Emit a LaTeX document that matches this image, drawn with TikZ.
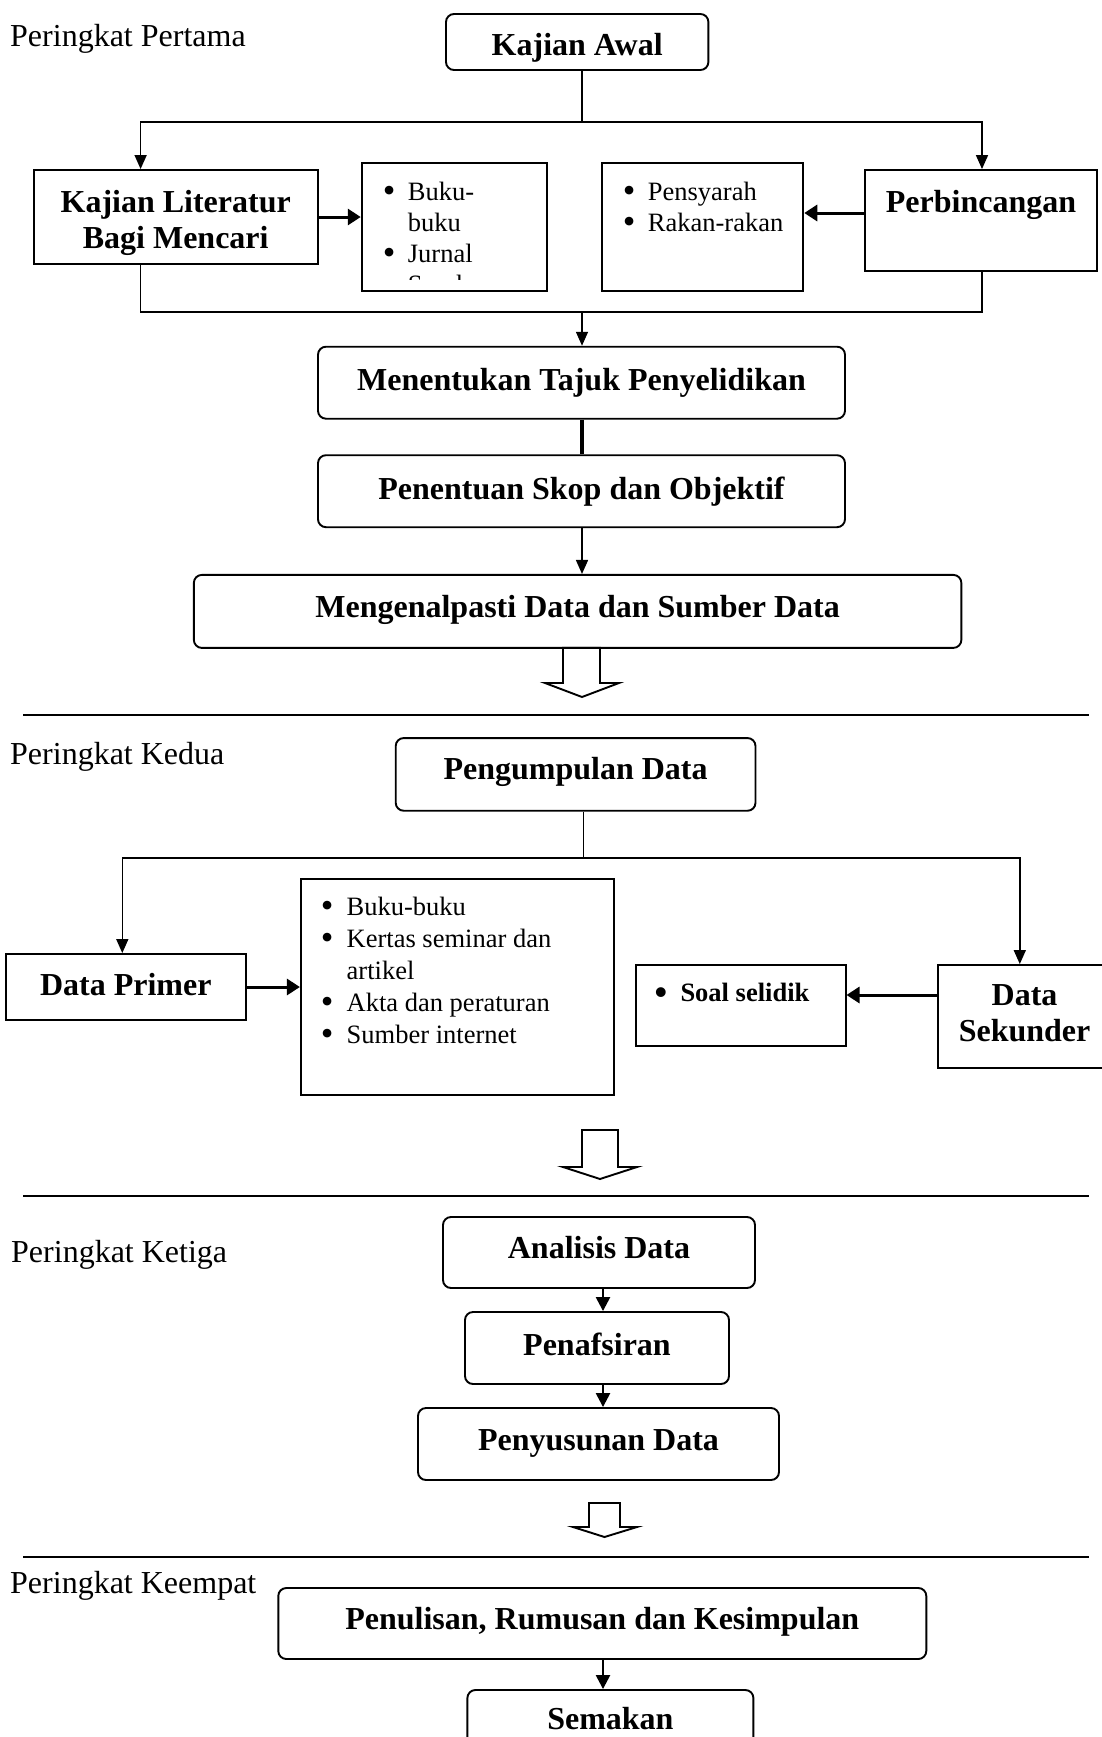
\documentclass[tikz,border=0pt]{standalone}
\usepackage{fontspec}
\setmainfont{Liberation Serif}
\usetikzlibrary{arrows.meta}
\newcommand\mybul{\makebox[9.3pt]{\raisebox{-2.5pt}{\fontsize{36}{36}\selectfont\textbullet}}}
\begin{document}
\begin{tikzpicture}[x=1pt,y=-1pt,
  ttl/.style={font=\fontsize{32}{36}\selectfont\bfseries},
  rbox/.style={draw, line width=1.9pt, rounded corners=8pt, inner sep=0pt, ttl, text height=13pt, text depth=0pt},
  sbox/.style={draw, line width=1.9pt, inner sep=0pt, ttl},
  lst/.style={anchor=base west, inner sep=0pt, font=\fontsize{26.5}{31}\selectfont},
  lstb/.style={anchor=base west, inner sep=0pt, font=\fontsize{26.5}{32}\selectfont},
  sec/.style={anchor=base west, inner sep=0pt, font=\fontsize{32}{38}\selectfont},
  lnk/.style={line width=1.6pt},
  arr/.style={line width=1.6pt, -{Triangle[length=14pt,width=12pt]}},
  arrk/.style={line width=2.4pt, -{Triangle[length=14pt,width=14pt]}},
  harr/.style={line width=3pt, -{Triangle[length=13pt,width=16pt]}},
  sep/.style={line width=1.8pt},
  hollow/.style={line width=1.9pt, line join=miter, fill=white}]
\useasboundingbox (0,0) rectangle (1102,1737);
\fill[white] (0,0) rectangle (1102,1737);
\clip (0,0) rectangle (1102,1737);

% ---------- Peringkat Pertama ----------
\node[sec] (s1) at (10,47) {Peringkat Pertama};
\node[rbox, minimum width=262.4pt, minimum height=56pt, text height=28pt] (ka) at (577.2,42) {Kajian Awal};
\node[sbox, minimum width=284pt, minimum height=94pt, text height=0pt, text depth=10pt] (kl) at (175.7,217)
  {\begin{tabular}[t]{@{}c@{}}Kajian Literatur\\Bagi Mencari\end{tabular}};
\node[sbox, minimum width=185pt, minimum height=128pt] (bk) at (454.2,226.7) {};
\begin{scope}
  \clip (361.7,162.7) rectangle (546.7,279.3);
  \node[lst] (bkt) at (384.4,200) {\begin{tabular}[t]{@{}l@{\hspace{14pt}}l@{}}\mybul & Buku-\\ & buku\\ \mybul & Jurnal\\ & Sumber\end{tabular}};
\end{scope}
\node[sbox, minimum width=201.6pt, minimum height=128pt] (ps) at (702.5,226.7) {};
\node[lst] (pst) at (624.4,200) {\begin{tabular}[t]{@{}l@{\hspace{14pt}}l@{}}\mybul & Pensyarah\\ \mybul & Rakan-rakan\end{tabular}};
\node[sbox, minimum width=232pt, minimum height=101pt, text height=0pt, text depth=17pt] (pb) at (981,220.5) {Perbincangan};

\node[rbox, minimum width=527pt, minimum height=72pt, text height=14.6pt] (mt) at (581.5,382.7) {Menentukan Tajuk Penyelidikan};
\node[rbox, minimum width=527pt, minimum height=72pt, text height=16pt] (pt) at (581.5,491.2) {Penentuan Skop dan Objektif};
\node[rbox, minimum width=767.5pt, minimum height=73pt, text height=13pt] (mg) at (577.6,611.4) {Mengenalpasti Data dan Sumber Data};

\coordinate (j1) at (582,122);
\coordinate (j1l) at (140.6,122);
\coordinate (j1r) at (982,122);
\draw[lnk] (ka.south -| j1) -- (j1);
\draw[arr] (j1r) -- (j1l) -- (j1l |- kl.north);
\draw[arr] (j1l) -- (j1r) -- (j1r |- pb.north);

\coordinate (j2) at (582,312);
\coordinate (j2l) at (140.6,312);
\coordinate (j2r) at (982,312);
\draw[lnk] (j2l |- kl.south) -- (j2l) -- (j2r) -- (j2r |- pb.south);
\draw[arr] (j2) -- (j2 |- mt.north);

\coordinate (h1) at (0,213);
\draw[harr] (kl.east) -- (bk.west |- kl.east);
\draw[harr] (pb.west |- h1) -- (ps.east |- h1);

\draw[line width=3.3pt] (mt.south -| j2) -- (pt.north -| j2);
\draw[arr] (pt.south -| j2) -- (mg.north -| j2);

\draw[hollow] (563,647.9) -- (563,683) -- (545,683) -- (582,697) -- (619,683) -- (600,683) -- (600,647.9) -- cycle;
\draw[sep] (23,715) -- (1089,715);

% ---------- Peringkat Kedua ----------
\node[sec] (s2) at (10,764) {Peringkat Kedua};
\node[rbox, minimum width=359.8pt, minimum height=72.7pt, text height=11pt] (pd) at (575.6,774.4) {Pengumpulan Data};
\node[sbox, minimum width=240.4pt, minimum height=66pt, text height=16pt, text depth=0pt] (dp) at (125.8,987) {Data Primer};
\node[sbox, minimum width=312.7pt, minimum height=216pt] (lk) at (457.2,987) {};
\node[lstb] (lkt) at (322.2,915) {\begin{tabular}[t]{@{}l@{\hspace{15pt}}l@{}}\mybul & Buku-buku\\ \mybul & Kertas seminar dan\\ & artikel\\ \mybul & Akta dan peraturan\\ \mybul & Sumber internet\end{tabular}};
\node[sbox, minimum width=209.5pt, minimum height=81pt] (ss) at (740.8,1005.5) {};
\node[lstb, font=\fontsize{26.5}{32}\selectfont\bfseries] (sst) at (656,1001.7) {\mybul\hspace{15pt}Soal selidik};
\node[sbox, minimum width=172.8pt, minimum height=103pt, text height=0pt, text depth=23pt] (ds) at (1024.6,1016.5)
  {\begin{tabular}[t]{@{}c@{}}Data\\Sekunder\end{tabular}};

\coordinate (j3) at (583.3,858);
\coordinate (j3l) at (122.3,858);
\coordinate (j3r) at (1019.8,858);
\draw[lnk] (pd.south -| j3) -- (j3);
\draw[arr] (j3r) -- (j3l) -- (j3l |- dp.north);
\draw[arr] (j3l) -- (j3r) -- (j3r |- ds.north);
\coordinate (h2) at (0,995);
\draw[harr] (dp.east) -- (lk.west |- dp.east);
\draw[harr] (ds.west |- h2) -- (ss.east |- h2);

\draw[hollow] (582,1130) -- (582,1167) -- (563,1167) -- (600,1179) -- (637,1167) -- (618,1167) -- (618,1130) -- cycle;
\draw[sep] (23,1196) -- (1089,1196);

% ---------- Peringkat Ketiga ----------
\node[sec] (s3) at (11,1262) {Peringkat Ketiga};
\node[rbox, minimum width=312pt, minimum height=71pt, text height=11.6pt] (ad) at (599,1252.5) {Analisis Data};
\node[rbox, minimum width=264pt, minimum height=72pt, text height=14pt] (pf) at (597,1348) {Penafsiran};
\node[rbox, minimum width=361pt, minimum height=72pt, text height=12pt] (py) at (598.5,1444) {Penyusunan Data};
\coordinate (x3) at (603,0);
\draw[arrk] (ad.south -| x3) -- (pf.north -| x3);
\draw[arrk] (pf.south -| x3) -- (py.north -| x3);

\draw[hollow] (589,1503) -- (589,1527) -- (573,1527) -- (604.5,1537) -- (637,1527) -- (620,1527) -- (620,1503) -- cycle;
\draw[sep] (23,1557) -- (1089,1557);

% ---------- Peringkat Keempat ----------
\node[sec] (s4) at (10,1593) {Peringkat Keempat};
\node[rbox, minimum width=648pt, minimum height=71pt, text height=11.6pt] (pn) at (602.3,1623.5) {Penulisan, Rumusan dan Kesimpulan};
\node[rbox, minimum width=286pt, minimum height=62pt, text height=16pt] (sm) at (610.4,1721) {Semakan};
\draw[arrk] (pn.south -| x3) -- (sm.north -| x3);
\end{tikzpicture}
\end{document}
